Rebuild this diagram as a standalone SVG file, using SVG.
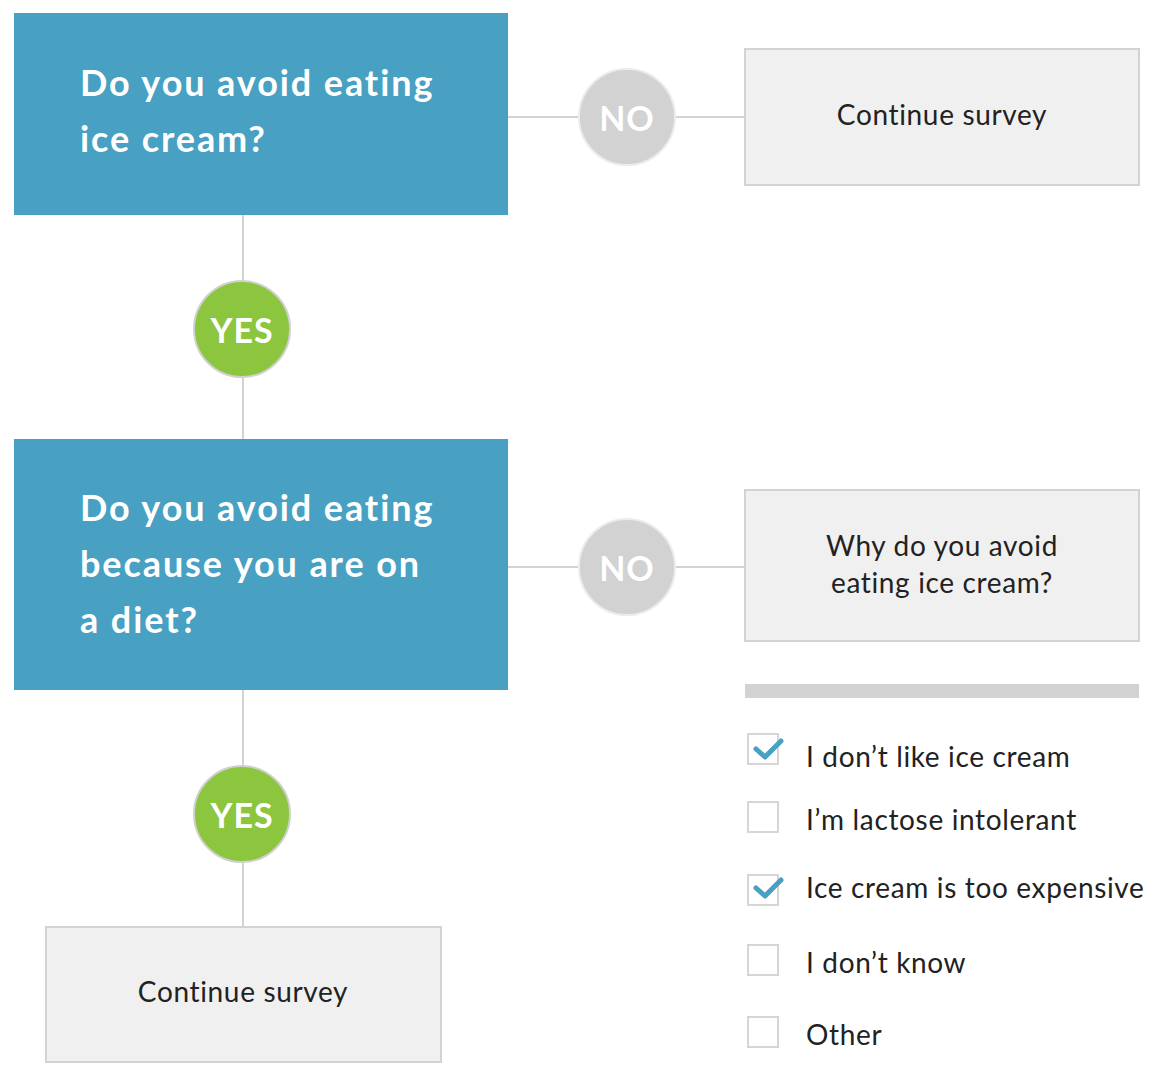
<svg xmlns="http://www.w3.org/2000/svg" width="1158" height="1085" viewBox="0 0 1158 1085">
<defs>
<style>
.q{fill:#48a0c2}
.qt{font-family:Lato,"Liberation Sans",sans-serif;font-weight:bold;font-size:36px;fill:#fff;letter-spacing:1.9px}
.g{fill:#f0f0f0;stroke:#d3d3d3;stroke-width:2}
.t{font-family:Lato,"Liberation Sans",sans-serif;font-size:28px;fill:#222;letter-spacing:0.65px}
.c{text-anchor:middle}
.no{fill:#d1d2d1;stroke:#ececec;stroke-width:2}
.yes{fill:#8cc63f;stroke:#d0d0d0;stroke-width:2}
.bt{font-family:Lato,"Liberation Sans",sans-serif;font-weight:bold;font-size:34px;fill:#fff;text-anchor:middle;letter-spacing:1px}
.ln{stroke:#d3d3d3;stroke-width:2;fill:none}
.cb{fill:#fff;stroke:#d6d6d6;stroke-width:2}
.ck{fill:none;stroke:#48a0c2;stroke-width:5;stroke-linecap:round;stroke-linejoin:round}
</style>
</defs>
<rect width="1158" height="1085" fill="#fff"/>
<g id="connectors">
<line class="ln" x1="508" y1="117" x2="745" y2="117"/>
<line class="ln" x1="508" y1="567" x2="745" y2="567"/>
<line class="ln" x1="243" y1="215" x2="243" y2="439"/>
<line class="ln" x1="243" y1="690" x2="243" y2="927"/>
</g>
<g id="q1">
<rect class="q" x="14" y="13" width="494" height="202"/>
<text class="qt" x="80" y="96">Do you avoid eating</text>
<text class="qt" x="80" y="152">ice cream?</text>
</g>
<g id="q2">
<rect class="q" x="14" y="439" width="494" height="251"/>
<text class="qt" x="80" y="521">Do you avoid eating</text>
<text class="qt" x="80" y="577">because you are on</text>
<text class="qt" x="80" y="633">a diet?</text>
</g>
<g id="no1">
<circle class="no" cx="627" cy="117" r="48"/>
<text class="bt" x="627" y="131">NO</text>
</g>
<g id="no2">
<circle class="no" cx="627" cy="567" r="48"/>
<text class="bt" x="627" y="581">NO</text>
</g>
<g id="yes1">
<circle class="yes" cx="242" cy="329" r="48"/>
<text class="bt" x="242" y="343">YES</text>
</g>
<g id="yes2">
<circle class="yes" cx="242" cy="814" r="48"/>
<text class="bt" x="242" y="828">YES</text>
</g>
<g id="cont1">
<rect class="g" x="745" y="49" width="394" height="136"/>
<text class="t c" x="942" y="125">Continue survey</text>
</g>
<g id="why">
<rect class="g" x="745" y="490" width="394" height="151"/>
<text class="t c" x="942" y="556">Why do you avoid</text>
<text class="t c" x="942" y="593">eating ice cream?</text>
</g>
<g id="cont2">
<rect class="g" x="46" y="927" width="395" height="135"/>
<text class="t c" x="243" y="1002">Continue survey</text>
</g>
<g id="options">
<rect x="745" y="684" width="394" height="14" fill="#d1d2d1"/>
<rect class="cb" x="748" y="734" width="30" height="30"/>
<polyline class="ck" points="756,749 765,757 781,741"/>
<text class="t" x="806" y="767">I don’t like ice cream</text>
<rect class="cb" x="748" y="802" width="30" height="30"/>
<text class="t" x="806" y="830">I’m lactose intolerant</text>
<rect class="cb" x="748" y="875" width="30" height="30"/>
<polyline class="ck" points="756,888 765,896 781,880"/>
<text class="t" x="806" y="898">Ice cream is too expensive</text>
<rect class="cb" x="748" y="945" width="30" height="30"/>
<text class="t" x="806" y="973">I don’t know</text>
<rect class="cb" x="748" y="1017" width="30" height="30"/>
<text class="t" x="806" y="1045">Other</text>
</g>
</svg>
